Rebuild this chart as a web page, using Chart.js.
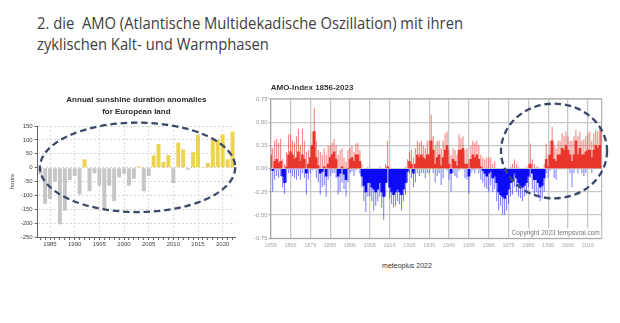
<!DOCTYPE html>
<html>
<head>
<meta charset="utf-8">
<script src="https://cdn.jsdelivr.net/npm/chart.js@4.4.0/dist/chart.umd.min.js"></script>
<style>
  html, body { margin: 0; padding: 0; background: #fff; }
  body { width: 620px; height: 323px; position: relative; overflow: hidden; font-family: "Open Sans", sans-serif; }
  #titel { position: absolute; left: 37px; top: 13px; font-size: 16px; line-height: 20.5px; color: #404040; white-space: nowrap; transform-origin: 0 0; }
  #box-sonne { position: absolute; left: 0; top: 88px; }
  #box-amo { position: absolute; left: 250px; top: 78px; }
  #quelle { position: absolute; left: 350px; top: 262px; width: 114px; text-align: center; font: 7px "Liberation Sans", Arial, sans-serif; color: #333; }
</style>
</head>
<body>
<div id="titel">2. die&nbsp; AMO (Atlantische Multidekadische Oszillation) mit ihren<br>zyklischen Kalt- und Warmphasen</div>
<div id="box-sonne"><canvas id="chart-sonne" width="245" height="165"></canvas></div>
<div id="box-amo"><canvas id="chart-amo" width="366" height="182"></canvas></div>
<div id="quelle">meteoplus 2022</div>
<script>
// ====== DADOS: Sonnenscheindauer Europa (Abweichung, Stunden) ======
const sonneJahre = [1983, 1984, 1985, 1986, 1987, 1988, 1989, 1990, 1991, 1992,
  1993, 1994, 1995, 1996, 1997, 1998, 1999, 2000, 2001, 2002,
  2003, 2004, 2005, 2006, 2007, 2008, 2009, 2010, 2011, 2012,
  2013, 2014, 2015, 2016, 2017, 2018, 2019, 2020, 2021, 2022];
const sonneWerte = [-25, -130, -113, -50, -204, -155, -45, -30, -97, 30,
  -85, -20, -65, -150, -65, -120, -35, -22, -65, -40,
  5, -85, -30, 45, 85, 20, 45, -55, 90, 65,
  -8, 55, 118, 2, 18, 100, 100, 120, 30, 130];
const sonneTicksY = [150, 100, 50, 0, -50, -100, -150, -200, -250];

// ====== DADOS: AMO-Index 1856-2023 (Jahresmittel, Monats-Max, Monats-Min) ======
const amoStart = 1856;
const amoEnde = 2023;
const amoMittel = [
  0.15, -0.02, 0.08, 0.10, 0.06, 0.08, -0.08, -0.15, 0.02, 0.15,   // 1856
  0.18, 0.15, 0.10, 0.12, 0.18, 0.08, 0.15, 0.10, -0.05, 0.05,     // 1866
  0.12, 0.25, 0.40, 0.12, 0.03, -0.05, -0.03, 0.02, -0.08, 0.05,   // 1876
  0.12, 0.15, 0.18, 0.10, -0.08, -0.05, 0.02, -0.06, -0.12, 0.00,  // 1886
  0.10, 0.12, 0.08, 0.15, 0.15, 0.08, -0.08, -0.18, -0.25, -0.15,  // 1896
  -0.15, -0.20, -0.22, -0.25, -0.22, -0.15, -0.25, -0.30, -0.15, 0.02, // 1906
  -0.20, -0.25, -0.28, -0.25, -0.22, -0.25, -0.28, -0.22, -0.15, -0.03, // 1916
  0.08, 0.05, -0.05, 0.05, 0.15, 0.12, 0.15, 0.12, 0.10, 0.15,     // 1926
  0.15, 0.30, 0.20, 0.05, 0.12, 0.15, 0.03, 0.12, 0.20, 0.25,      // 1936
  0.05, -0.05, 0.10, 0.08, 0.03, 0.20, 0.20, 0.22, 0.05, 0.05,     // 1946
  -0.08, 0.10, 0.15, 0.12, 0.15, 0.10, 0.02, -0.02, -0.05, -0.08,  // 1956
  -0.05, -0.03, -0.10, -0.08, -0.15, -0.25, -0.28, -0.30, -0.32, -0.28, // 1966
  -0.22, -0.15, -0.12, -0.05, -0.10, -0.15, -0.18, -0.20, -0.18, -0.15, // 1976
  -0.08, 0.05, -0.05, -0.12, -0.12, -0.15, -0.20, -0.18, -0.10, 0.10,   // 1986
  0.02, 0.15, 0.30, 0.10, 0.08, 0.15, 0.15, 0.22, 0.20, 0.25,      // 1996
  0.20, 0.15, 0.08, 0.15, 0.30, 0.15, 0.22, 0.15, 0.15, 0.18,      // 2006
  0.20, 0.20, 0.12, 0.20, 0.25, 0.22, 0.25, 0.45                   // 2016
];
const amoMax = [
  0.25, 0.22, 0.30, 0.32, 0.28, 0.32, 0.10, 0.05, 0.18, 0.37,
  0.37, 0.30, 0.28, 0.35, 0.43, 0.25, 0.43, 0.30, 0.18, 0.20,
  0.25, 0.40, 0.65, 0.30, 0.20, 0.18, 0.15, 0.22, 0.15, 0.25,
  0.25, 0.28, 0.32, 0.25, 0.15, 0.20, 0.22, 0.12, 0.08, 0.20,
  0.22, 0.25, 0.18, 0.27, 0.28, 0.20, 0.05, 0.00, 0.00, 0.02,
  0.00, 0.00, 0.00, 0.00, 0.00, 0.02, 0.00, 0.00, 0.05, 0.30,
  0.00, 0.00, 0.00, 0.00, 0.00, 0.00, 0.00, 0.00, 0.02, 0.10,
  0.18, 0.20, 0.12, 0.22, 0.30, 0.28, 0.30, 0.25, 0.22, 0.30,
  0.30, 0.58, 0.35, 0.25, 0.30, 0.30, 0.22, 0.30, 0.38, 0.40,
  0.20, 0.15, 0.22, 0.20, 0.15, 0.37, 0.33, 0.35, 0.20, 0.22,
  0.10, 0.25, 0.30, 0.28, 0.30, 0.25, 0.15, 0.12, 0.10, 0.12,
  0.12, 0.12, 0.05, 0.08, 0.00, 0.00, 0.00, 0.00, 0.00, 0.00,
  0.00, 0.02, 0.05, 0.10, 0.05, 0.02, 0.00, 0.00, 0.00, 0.02,
  0.05, 0.27, 0.10, 0.05, 0.02, 0.02, 0.00, 0.00, 0.05, 0.27,
  0.15, 0.30, 0.45, 0.25, 0.22, 0.30, 0.30, 0.38, 0.35, 0.40,
  0.35, 0.30, 0.30, 0.35, 0.42, 0.35, 0.40, 0.30, 0.32, 0.35,
  0.38, 0.40, 0.30, 0.38, 0.42, 0.40, 0.45, 0.65
];
const amoMin = [
  -0.02, -0.25, -0.12, -0.08, -0.10, -0.08, -0.20, -0.27, -0.15, -0.05,
  -0.05, -0.08, -0.10, -0.12, -0.08, -0.12, -0.05, -0.10, -0.28, -0.12,
  -0.05, -0.02, 0.05, -0.10, -0.15, -0.28, -0.20, -0.18, -0.30, -0.12,
  -0.08, -0.05, -0.05, -0.10, -0.28, -0.25, -0.15, -0.22, -0.30, -0.15,
  -0.05, -0.03, -0.08, -0.02, 0.00, -0.05, -0.20, -0.35, -0.47, -0.30,
  -0.30, -0.35, -0.45, -0.40, -0.35, -0.30, -0.42, -0.55, -0.30, -0.15,
  -0.32, -0.38, -0.42, -0.40, -0.35, -0.38, -0.45, -0.35, -0.28, -0.15,
  -0.05, -0.10, -0.20, -0.15, -0.05, -0.08, -0.05, -0.05, -0.10, -0.05,
  -0.05, 0.02, -0.05, -0.15, -0.08, -0.05, -0.18, -0.10, 0.00, -0.02,
  -0.12, -0.25, -0.05, -0.08, -0.10, -0.02, 0.00, 0.02, -0.10, -0.12,
  -0.27, -0.05, -0.02, -0.05, 0.00, -0.05, -0.12, -0.15, -0.20, -0.22,
  -0.25, -0.18, -0.25, -0.22, -0.35, -0.45, -0.40, -0.50, -0.50, -0.45,
  -0.38, -0.30, -0.28, -0.20, -0.25, -0.30, -0.32, -0.35, -0.30, -0.28,
  -0.20, -0.10, -0.22, -0.28, -0.25, -0.30, -0.35, -0.32, -0.25, -0.05,
  -0.10, -0.02, 0.05, -0.10, -0.12, 0.00, 0.00, 0.05, 0.05, 0.05,
  0.00, -0.05, -0.20, -0.05, 0.10, -0.05, 0.00, -0.05, -0.08, -0.05,
  0.00, 0.00, -0.05, 0.02, 0.05, 0.02, 0.05, 0.20
];
const amoJahre = [];
for (let j = amoStart; j <= amoEnde; j++) amoJahre.push(j);

// ====== Titel etwas schmaler (Calibri-Ersatz) ======
const titel = document.getElementById("titel");
titel.style.transform = "scaleX(" + (426 / titel.getBoundingClientRect().width) + ")";

Chart.defaults.font.family = "'Liberation Sans', Arial, sans-serif";
Chart.defaults.animation = false;

// ====== PLUGIN: gestrichelte Ellipse + Rahmen + Copyright ======
const markierung = {
  id: "markierung",
  afterDraw(chart, args, opts) {
    const { ctx, chartArea, scales: { x, y } } = chart;
    if (opts.rahmen) {
      ctx.save();
      ctx.strokeStyle = "#a8a8a8";
      ctx.lineWidth = 1;
      ctx.strokeRect(chartArea.left, chartArea.top, chartArea.right - chartArea.left, chartArea.bottom - chartArea.top);
      ctx.restore();
    }
    if (opts.copyright) {
      ctx.save();
      ctx.font = "6.5px 'Liberation Sans', Arial, sans-serif";
      const w = ctx.measureText(opts.copyright).width;
      ctx.fillStyle = "#fff";
      ctx.fillRect(chartArea.right - w - 4, chartArea.bottom - 10, w + 3.5, 9.5);
      ctx.fillStyle = "#777";
      ctx.textAlign = "right";
      ctx.textBaseline = "alphabetic";
      ctx.fillText(opts.copyright, chartArea.right - 2, chartArea.bottom - 3);
      ctx.restore();
    }
    if (opts.ellipse) {
      const e = opts.ellipse;
      const x0 = x.getPixelForValue(e.x0), x1 = x.getPixelForValue(e.x1);
      const y0 = y.getPixelForValue(e.y0), y1 = y.getPixelForValue(e.y1);
      ctx.save();
      ctx.setLineDash([6.5, 3.8]);
      ctx.lineWidth = 2.3;
      ctx.strokeStyle = "#3b4868";
      ctx.beginPath();
      ctx.ellipse((x0 + x1) / 2, (y0 + y1) / 2, Math.abs(x1 - x0) / 2, Math.abs(y1 - y0) / 2, 0, 0, Math.PI * 2);
      ctx.stroke();
      ctx.restore();
    }
  }
};

// ====== GRÁFICO 1: Sonnenschein ======
new Chart(document.getElementById("chart-sonne"), {
  type: "bar",
  data: {
    labels: sonneJahre,
    datasets: [{
      data: sonneWerte,
      backgroundColor: c => c.raw > 0 ? "#ecd44c" : "#c6c6c6",
      barPercentage: 0.8,
      categoryPercentage: 1
    }]
  },
  options: {
    responsive: false,
    layout: { padding: { left: 0, right: 10, top: 0, bottom: 2 } },
    plugins: {
      legend: { display: false },
      tooltip: { enabled: false },
      title: {
        display: true,
        fullSize: false,
        text: ["Annual sunshine duration anomalies", "for European land"],
        color: "#2a2a2a",
        font: { size: 8, weight: "bold", lineHeight: 1.5 },
        padding: { top: 6, bottom: 8 }
      },
      markierung: { ellipse: { x0: -0.05, x1: 39.55, y0: -160, y1: 162 } }
    },
    scales: {
      x: {
        offset: true,
        afterFit: s => { s.height = 14; },
        grid: {
          offset: false,
          color: c => sonneJahre[c.index] % 5 === 0 ? "#dadada" : "transparent",
          tickColor: "#666",
          tickLength: 3
        },
        border: { color: "#666", dash: [2, 2] },
        ticks: {
          autoSkip: false,
          maxRotation: 0,
          padding: 1,
          color: "#444",
          font: { size: 6 },
          callback: (v, i) => sonneJahre[i] % 5 === 0 ? String(sonneJahre[i]) : ""
        }
      },
      y: {
        min: -250,
        max: 150,
        afterFit: s => { s.width = 37.7; },
        afterBuildTicks: s => { s.ticks = sonneTicksY.map(v => ({ value: v })); },
        title: { display: true, text: "hours", color: "#333", font: { size: 6 }, padding: { top: 8.5 } },
        grid: { color: "#d6d6d6", tickColor: "#666", tickLength: 3 },
        border: { color: "#666", dash: [2, 2] },
        ticks: { color: "#444", font: { size: 6 }, padding: 2 }
      }
    }
  },
  plugins: [markierung]
});

// ====== GRÁFICO 2: AMO-Index ======
const rot = "#e8362c", rotHell = "rgba(234,60,50,0.62)";
const blau = "#0a0af5", blauHell = "rgba(30,30,255,0.55)";

new Chart(document.getElementById("chart-amo"), {
  type: "bar",
  data: {
    labels: amoJahre,
    datasets: [
      { data: amoMittel, order: 0, barPercentage: 1, categoryPercentage: 1,
        backgroundColor: c => c.raw >= 0 ? rot : blau },
      { data: amoMax, order: 1, barPercentage: 0.55, categoryPercentage: 1,
        backgroundColor: c => c.raw >= 0 ? rotHell : blauHell },
      { data: amoMin, order: 1, barPercentage: 0.55, categoryPercentage: 1,
        backgroundColor: c => c.raw >= 0 ? rotHell : blauHell }
    ]
  },
  options: {
    responsive: false,
    datasets: { bar: { grouped: false } },
    layout: { padding: { left: 0, right: 14.3, top: 1.4, bottom: 9.7 } },
    plugins: {
      legend: { display: false },
      tooltip: { enabled: false },
      title: {
        display: true,
        fullSize: false,
        align: "start",
        text: "AMO-Index 1856-2023",
        color: "#333",
        font: { size: 8, weight: "bold" },
        padding: { top: 4, bottom: 6 }
      },
      markierung: {
        rahmen: true,
        copyright: "Copyright 2023 tempsvrai.com",
        ellipse: { x0: 1972.2 - amoStart, x1: 2025.7 - amoStart, y0: -0.32, y1: 0.70 }
      }
    },
    scales: {
      x: {
        offset: false,
        afterFit: s => { s.height = 12; },
        grid: {
          offset: false,
          color: c => (amoJahre[c.index] - amoStart) % 10 === 0 ? "#c8c8c8" : "transparent",
          lineWidth: 1.3,
          drawTicks: false
        },
        border: { color: "#a8a8a8" },
        ticks: {
          autoSkip: false,
          maxRotation: 0,
          padding: 4,
          color: "#aaa",
          font: { size: 5.5 },
          callback: (v, i) => (amoJahre[i] - amoStart) % 10 === 0 ? String(amoJahre[i]) : ""
        }
      },
      y: {
        min: -0.75,
        max: 0.75,
        afterFit: s => { s.width = 20.7; },
        grid: { color: "#c8c8c8", lineWidth: 1.3, tickLength: 2, tickColor: "#aaa" },
        border: { color: "#a8a8a8" },
        ticks: { stepSize: 0.25, color: "#999", font: { size: 6 }, padding: 1, callback: v => v.toFixed(2) }
      }
    }
  },
  plugins: [markierung]
});
</script>
</body>
</html>
